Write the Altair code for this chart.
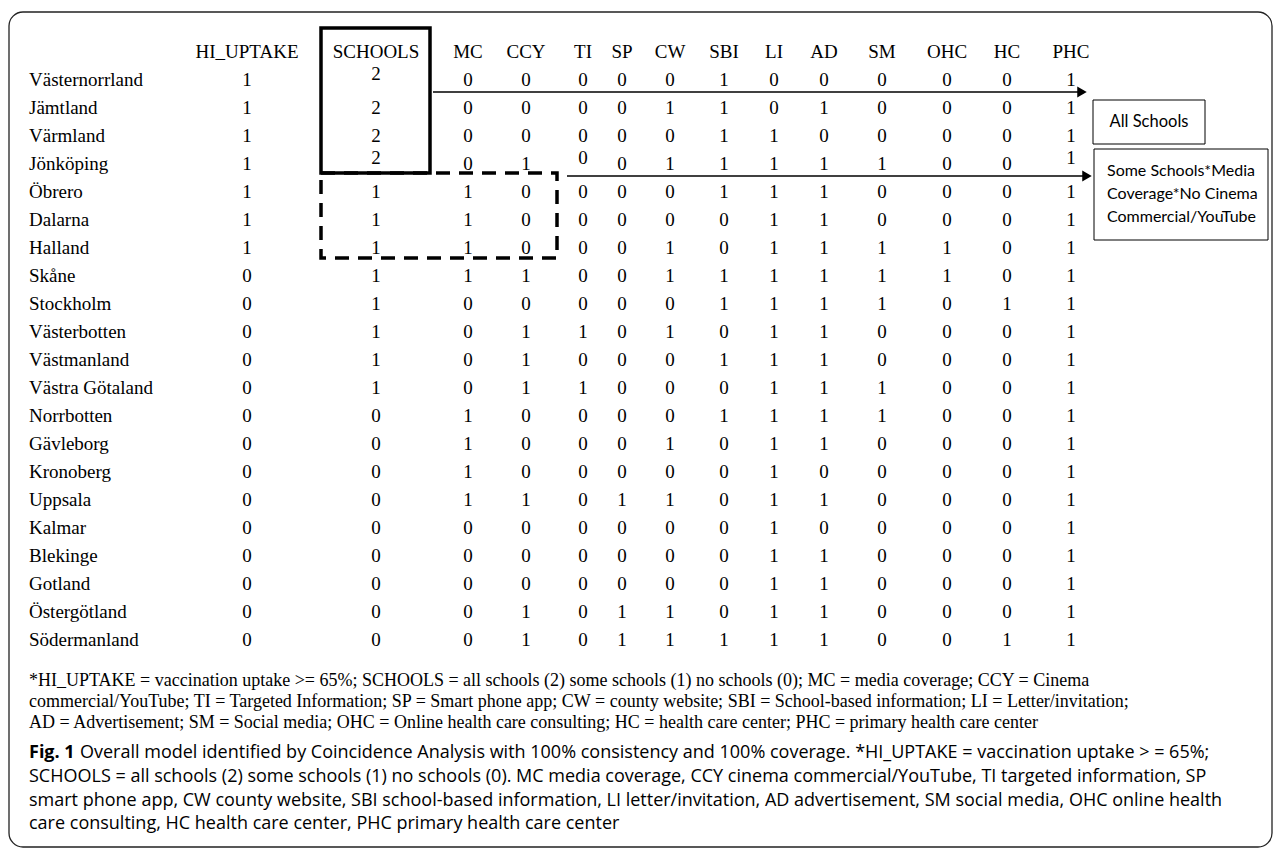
import altair as alt
import pandas as pd

# ---------------- data ----------------
regions = ["Västernorrland", "Jämtland", "Värmland", "Jönköping", "Öbrero", "Dalarna",
           "Halland", "Skåne", "Stockholm", "Västerbotten", "Västmanland", "Västra Götaland",
           "Norrbotten", "Gävleborg", "Kronoberg", "Uppsala", "Kalmar", "Blekinge",
           "Gotland", "Östergötland", "Södermanland"]
columns = ["HI_UPTAKE", "SCHOOLS", "MC", "CCY", "TI", "SP", "CW", "SBI", "LI", "AD",
           "SM", "OHC", "HC", "PHC"]
HI_UPTAKE = [1, 1, 1, 1, 1, 1, 1, 0, 0, 0, 0, 0, 0, 0, 0, 0, 0, 0, 0, 0, 0]
SCHOOLS = [2, 2, 2, 2, 1, 1, 1, 1, 1, 1, 1, 1, 0, 0, 0, 0, 0, 0, 0, 0, 0]
MC = [0, 0, 0, 0, 1, 1, 1, 1, 0, 0, 0, 0, 1, 1, 1, 1, 0, 0, 0, 0, 0]
CCY = [0, 0, 0, 1, 0, 0, 0, 1, 0, 1, 1, 1, 0, 0, 0, 1, 0, 0, 0, 1, 1]
TI = [0, 0, 0, 0, 0, 0, 0, 0, 0, 1, 0, 1, 0, 0, 0, 0, 0, 0, 0, 0, 0]
SP = [0, 0, 0, 0, 0, 0, 0, 0, 0, 0, 0, 0, 0, 0, 0, 1, 0, 0, 0, 1, 1]
CW = [0, 1, 0, 1, 0, 0, 1, 1, 0, 1, 0, 0, 0, 1, 0, 1, 0, 0, 0, 1, 1]
SBI = [1, 1, 1, 1, 1, 0, 0, 1, 1, 0, 1, 0, 1, 0, 0, 0, 0, 0, 0, 0, 1]
LI = [0, 0, 1, 1, 1, 1, 1, 1, 1, 1, 1, 1, 1, 1, 1, 1, 1, 1, 1, 1, 1]
AD = [0, 1, 0, 1, 1, 1, 1, 1, 1, 1, 1, 1, 1, 1, 0, 1, 0, 1, 1, 1, 1]
SM = [0, 0, 0, 1, 0, 0, 1, 1, 1, 0, 0, 1, 1, 0, 0, 0, 0, 0, 0, 0, 0]
OHC = [0, 0, 0, 0, 0, 0, 1, 1, 0, 0, 0, 0, 0, 0, 0, 0, 0, 0, 0, 0, 0]
HC = [0, 0, 0, 0, 0, 0, 0, 0, 1, 0, 0, 0, 0, 0, 0, 0, 0, 0, 0, 0, 1]
PHC = [1, 1, 1, 1, 1, 1, 1, 1, 1, 1, 1, 1, 1, 1, 1, 1, 1, 1, 1, 1, 1]

box_all = ["All Schools"]
box_some = ["Some Schools*Media", "Coverage*No Cinema", "Commercial/YouTube"]

footnote = [
    "*HI_UPTAKE = vaccination uptake >= 65%; SCHOOLS = all schools (2) some schools (1) no schools (0); MC = media coverage; CCY = Cinema",
    "commercial/YouTube; TI = Targeted Information; SP = Smart phone app; CW = county website; SBI = School-based information; LI = Letter/invitation;",
    "AD = Advertisement; SM = Social media; OHC = Online health care consulting; HC = health care center; PHC = primary health care center",
]
caption_label = "Fig. 1"
caption = [
    "Overall model identified by Coincidence Analysis with 100% consistency and 100% coverage. *HI_UPTAKE = vaccination uptake > = 65%;",
    "SCHOOLS = all schools (2) some schools (1) no schools (0). MC media coverage, CCY cinema commercial/YouTube, TI targeted information, SP",
    "smart phone app, CW county website, SBI school-based information, LI letter/invitation, AD advertisement, SM social media, OHC online health",
    "care consulting, HC health care center, PHC primary health care center",
]

# cells printed slightly higher in the original figure (styling only)
raised_cells = [("Västernorrland", "SCHOOLS"), ("Jönköping", "SCHOOLS"),
                ("Jönköping", "TI"), ("Jönköping", "PHC")]

# ---------------- layout ----------------
W, H = 1265, 840
M = 8  # page margin: image pixel -> chart pixel
col_x = [247, 376, 468, 526, 583, 622, 670, 724, 774, 824, 882, 947, 1007, 1071]
row_first, row_last = 80, 640
header_y = 52
name_x = 29
SERIF = "Liberation Serif"
SANS = "Open Sans"
BOXF = "Lato"

series = dict(zip(columns, [HI_UPTAKE, SCHOOLS, MC, CCY, TI, SP, CW, SBI, LI, AD, SM, OHC, HC, PHC]))
recs = []
for ri, r in enumerate(regions):
    for ci, c in enumerate(columns):
        recs.append({"region": r, "col": c, "ci": ci, "value": str(series[c][ri]),
                     "raised": (r, c) in raised_cells})
cells = pd.DataFrame(recs)
hdr = pd.DataFrame({"col": columns, "ci": list(range(len(columns)))})
names = pd.DataFrame({"region": regions})
one = pd.DataFrame({"k": [0]})

xscale = alt.Scale(domain=list(range(len(columns))), range=[v - M for v in col_x], zero=False, nice=False)
yscale = alt.Scale(domain=regions, range=[row_first - M, row_last - M], padding=0)
X = alt.X("ci:Q", scale=xscale, axis=None)
Y = alt.Y("region:N", scale=yscale, axis=None)

layers = []

# outer rounded frame
layers.append(alt.Chart(one).mark_rect(fillOpacity=0, stroke="#222222", strokeWidth=1.3, cornerRadius=14).encode(
    x=alt.value(9 - M), x2=alt.value(1272 - M), y=alt.value(12 - M), y2=alt.value(847 - M)))

# header
layers.append(alt.Chart(hdr).mark_text(font=SERIF, fontSize=19, baseline="middle", align="center", color="black").encode(
    x=X, y=alt.value(header_y - M), text="col:N"))

# region names
layers.append(alt.Chart(names).mark_text(font=SERIF, fontSize=19, baseline="middle", align="left", color="black").encode(
    x=alt.value(name_x - M), y=Y, text="region:N"))

# cells
base = alt.Chart(cells).encode(x=X, y=Y, text="value:N")
layers.append(base.mark_text(font=SERIF, fontSize=19, baseline="middle", align="center", color="black")
              .transform_filter("!datum.raised"))
layers.append(base.mark_text(font=SERIF, fontSize=19, baseline="middle", align="center", color="black", dy=-6)
              .transform_filter("datum.raised"))


def rect(x1, y1, x2, y2, **kw):
    return alt.Chart(one).mark_rect(fillOpacity=0, stroke="black", **kw).encode(
        x=alt.value(x1 - M), x2=alt.value(x2 - M), y=alt.value(y1 - M), y2=alt.value(y2 - M))


def text(s, x, y, **kw):
    return alt.Chart(one).mark_text(baseline="middle", color="black", **kw).encode(
        x=alt.value(x - M), y=alt.value(y - M), text=alt.value(s))


# solid box around "all schools" and dashed box around some schools / MC / no CCY
layers.append(rect(321, 28, 430, 173, strokeWidth=3.5))
layers.append(rect(321, 173, 557, 258, strokeWidth=3.5, strokeDash=[14, 9]))

# arrows
for (x1, x2, y) in [(433, 1081, 92), (567, 1086, 176)]:
    layers.append(alt.Chart(one).mark_rule(color="black", strokeWidth=1.5).encode(
        x=alt.value(x1 - M), x2=alt.value(x2 - M), y=alt.value(y - M)))
    layers.append(alt.Chart(one).mark_point(shape="triangle-right", filled=True, size=120, color="black", opacity=1).encode(
        x=alt.value(x2 + 1 - M), y=alt.value(y - M)))

# label boxes
layers.append(rect(1093, 100, 1205, 144, strokeWidth=1))
layers.append(text(box_all[0], 1149, 122, font=BOXF, fontSize=16.5, align="center"))
layers.append(rect(1094, 149, 1268, 240, strokeWidth=1))
for i, s in enumerate(box_some):
    layers.append(text(s, 1107, 171 + 23 * i, font=BOXF, fontSize=16, align="left"))

# footnote
for i, s in enumerate(footnote):
    layers.append(text(s, 29, 681 + 21 * i, font=SERIF, fontSize=18, align="left"))

# caption
layers.append(text(caption_label, 29, 753, font=SANS, fontSize=18, fontWeight="bold", align="left"))
layers.append(text(caption[0], 80, 753, font=SANS, fontSize=18, align="left"))
for i, s in enumerate(caption[1:]):
    layers.append(text(s, 29, 777 + 23.5 * i, font=SANS, fontSize=18, align="left"))

chart = alt.layer(*layers).properties(
    width=W, height=H, padding=0, autosize=alt.AutoSizeParams(type="none")
).configure_view(strokeWidth=0)

chart.save("out.html", embed_options={"renderer": "svg", "actions": False})
